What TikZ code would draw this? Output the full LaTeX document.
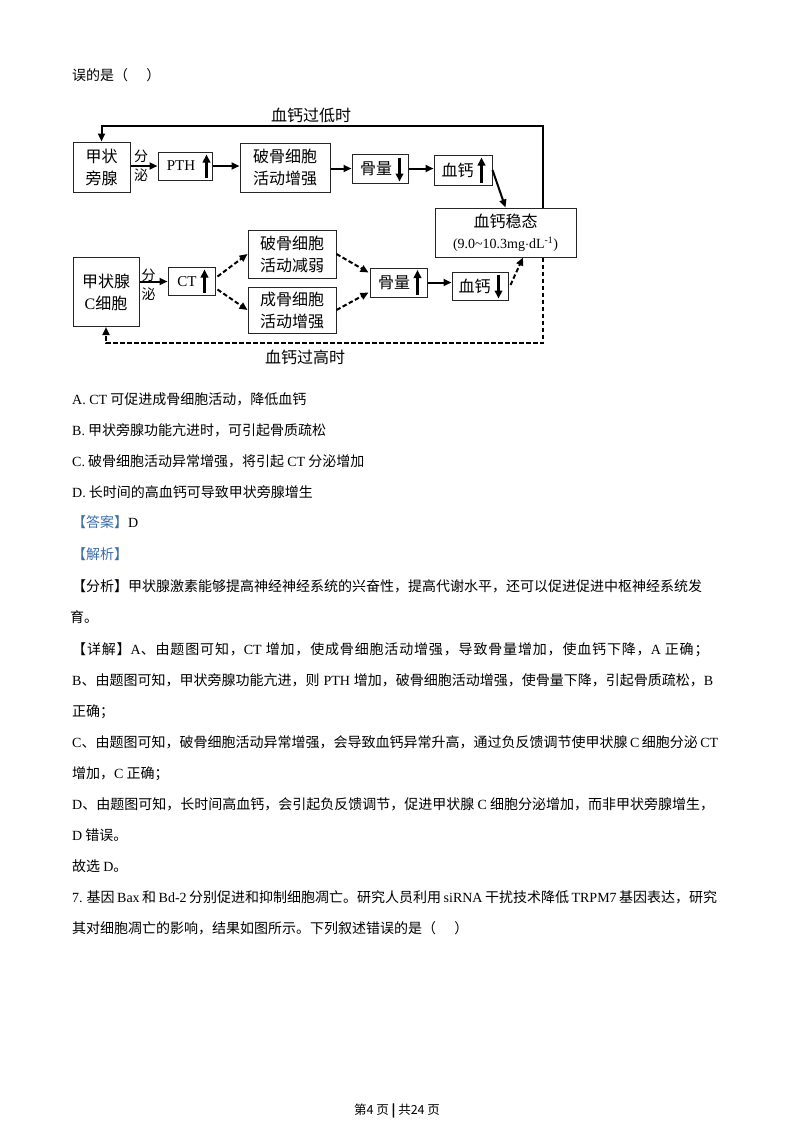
\documentclass[tikz,border=0pt]{standalone}
\usepackage{fontspec}
\setmainfont{Noto Sans CJK SC}
\newfontfamily\tms{Liberation Serif}
\newcommand{\lat}[1]{{\tms #1}}
\newcommand{\gapx}{\hspace{4pt}}
\XeTeXlinebreaklocale "zh"
\XeTeXlinebreakskip=0pt plus 3pt minus 0.3pt
\usetikzlibrary{arrows.meta,calc}
\definecolor{blu}{RGB}{60,110,170}
\begin{document}
\begin{tikzpicture}[x=1pt,y=-1pt,
  box/.style={draw=black!85, line width=1pt, inner sep=0pt, align=center, font=\fontsize{16}{22}\selectfont},
  conn/.style={line width=2pt, -{Triangle[length=8pt,width=7pt]}},
  dconn/.style={conn, dash pattern=on 4.5pt off 2.5pt},
  inarr/.style={line width=2.3pt, -{Triangle[length=8pt,width=7.5pt]}},
  lbl/.style={inner sep=0pt, font=\fontsize{16}{16}\selectfont},
  sec/.style={inner sep=0pt, align=center, font=\fontsize{14}{19}\selectfont},
  body/.style={anchor=base west, inner sep=0pt, font=\fontsize{14}{14}\selectfont}]
\useasboundingbox (0,0) rectangle (793,1122);
\fill[white] (0,0) rectangle (793,1122);

% ---------- text above ----------
\node[body] (t0) at (72,80) {误的是（\hspace{1.3em}）};

% ---------- diagram: upper row ----------
\node[box, minimum width=57pt, minimum height=50pt] (ptg) at (101.5,167) {甲状\\旁腺};
\node[box, minimum width=54pt, minimum height=28pt] (pth) at (185,166) {\lat{\fontsize{15}{15}\selectfont PTH}\hspace{8pt}};
\node[box, minimum width=90pt, minimum height=49pt] (pogq) at (285,167.5) {破骨细胞\\活动增强};
\node[box, minimum width=56pt, minimum height=29pt] (gld) at (380,168.5) {骨量\hspace{8pt}};
\node[box, minimum width=58pt, minimum height=30pt] (xgu) at (463,170) {血钙\hspace{11pt}};
\node[box, minimum width=141pt, minimum height=49pt] (wt) at (505.5,232.5) {血钙稳态\\[-1pt]\lat{\fontsize{14}{14}\selectfont (9.0\char`~10.3mg$\cdot$dL\textsuperscript{-1})}};

% ---------- diagram: lower row ----------
\node[box, minimum width=66pt, minimum height=69pt] (cc) at (106,292) {甲状腺\\\lat{C}细胞};
\node[box, minimum width=47pt, minimum height=28pt] (ct) at (191.5,281.5) {\lat{\fontsize{15}{15}\selectfont CT}\hspace{9pt}};
\node[box, minimum width=88pt, minimum height=48pt] (pojr) at (292,254) {破骨细胞\\活动减弱};
\node[box, minimum width=88pt, minimum height=46pt] (cgzq) at (292,310) {成骨细胞\\活动增强};
\node[box, minimum width=57pt, minimum height=29pt] (glu) at (398.5,282.5) {骨量\hspace{9pt}};
\node[box, minimum width=56pt, minimum height=28pt] (xgd) at (480,286) {血钙\hspace{11pt}};

% arrows inside boxes
\draw[inarr] ([shift={(-6,-2.5)}]pth.south east) -- ([shift={(-6,3)}]pth.north east);
\draw[inarr] ([shift={(-9,4)}]gld.north east) -- ([shift={(-9,-2)}]gld.south east);
\draw[inarr] ([shift={(-11,-2.5)}]xgu.south east) -- ([shift={(-11,3)}]xgu.north east);
\draw[inarr] ([shift={(-11,-3)}]ct.south east) -- ([shift={(-11,2.5)}]ct.north east);
\draw[inarr] ([shift={(-10,-2.5)}]glu.south east) -- ([shift={(-10,2.5)}]glu.north east);
\draw[inarr] ([shift={(-10,3)}]xgd.north east) -- ([shift={(-10,-2)}]xgd.south east);

% labels
\node[lbl] (lo) at (311,115) {血钙过低时};
\node[lbl] (hi) at (305,357) {血钙过高时};
\node[sec] (fm1) at (141,166) {分\\泌};
\node[sec] (fm2) at (148.5,284.5) {分\\泌};

% coordinates for feedback loops
\coordinate (tr) at (543,126);
\coordinate (br) at (543,343);

% solid connectors
\draw[conn] (ptg.east |- pth) -- (pth.west);
\draw[conn] (pth.east) -- (pth.east -| pogq.west);
\draw[conn] (pogq.east |- gld) -- (gld.west);
\draw[conn] (gld.east) -- (gld.east -| xgu.west);
\draw[conn] (xgu.east) -- (wt.north);
\draw[conn] (wt.north -| tr) -- (tr) -| (ptg.north);
\draw[conn] (cc.east |- ct) -- (ct.west);
\draw[conn] (glu.east) -- (glu.east -| xgd.west);

% dashed connectors
\draw[dconn] ([shift={(2,-5)}]ct.east) -- (pojr.west);
\draw[dconn] ([shift={(2,8)}]ct.east) -- (cgzq.west);
\draw[dconn] (pojr.east) -- ([shift={(-1,-10)}]glu.west);
\draw[dconn] (cgzq.east) -- ([shift={(-1,10)}]glu.west);
\draw[dconn] ([shift={(2,-1)}]xgd.east) -- ([shift={(17.5,0)}]wt.south);
\draw[dconn] (wt.south -| br) -- (br) -| (cc.south);

% ---------- options ----------
\node[body] (oa) at (72,404) {\lat{A. CT} 可促进成骨细胞活动，降低血钙};
\node[body] (ob) at (72,435) {\lat{B.} 甲状旁腺功能亢进时，可引起骨质疏松};
\node[body] (oc) at (72,466) {\lat{C.} 破骨细胞活动异常增强，将引起 \lat{CT} 分泌增加};
\node[body] (od) at (72,497) {\lat{D.} 长时间的高血钙可导致甲状旁腺增生};

% ---------- answer ----------
\node[body] (ans) at (72,527) {\textcolor{blu}{【答案】}\lat{D}};
\node[body] (jx) at (72,559) {\textcolor{blu}{【解析】}};
\node[body] (fx1) at (72,591) {\hbox to 632pt{【分析】甲状腺激素能够提高神经神经系统的兴奋性，提高代谢水平，还可以促进促进中枢神经系统发}};
\node[body] (fx2) at (70,622) {育。};
\node[body] (xj1) at (72,654) {\addfontfeature{LetterSpace=6}【详解】\lat{A}、由题图可知，\lat{CT}\gapx 增加，使成骨细胞活动增强，导致骨量增加，使血钙下降，\lat{A}\gapx 正确；};
\node[body] (xj2) at (72,685) {\hbox to 646pt{\lat{B}、由题图可知，甲状旁腺功能亢进，则\gapx\lat{PTH}\gapx 增加，破骨细胞活动增强，使骨量下降，引起骨质疏松，\lat{B}}};
\node[body] (xj3) at (72,716) {正确；};
\node[body] (xj4) at (72,747) {\hbox to 646pt{\lat{C}、由题图可知，破骨细胞活动异常增强，会导致血钙异常升高，通过负反馈调节使甲状腺 \lat{C} 细胞分泌 \lat{CT}}};
\node[body] (xj5) at (72,778) {增加，\lat{C} 正确；};
\node[body] (xj6) at (72,809) {\hbox to 642pt{\lat{D}、由题图可知，长时间高血钙，会引起负反馈调节，促进甲状腺 \lat{C} 细胞分泌增加，而非甲状旁腺增生，}};
\node[body] (xj7) at (72,840) {\lat{D} 错误。};
\node[body] (xj8) at (72,871) {故选 \lat{D}。};
\node[body] (q7a) at (72,902) {\hbox to 645pt{\lat{7.} 基因 \lat{Bax} 和 \lat{Bd-2} 分别促进和抑制细胞凋亡。研究人员利用 \lat{siRNA} 干扰技术降低 \lat{TRPM7} 基因表达，研究}};
\node[body] (q7b) at (72,933) {其对细胞凋亡的影响，结果如图所示。下列叙述错误的是（\hspace{1.3em}）};

% ---------- footer ----------
\node[inner sep=0pt, font=\fontsize{12.5}{12.5}\selectfont] (ft) at (397,1111) {第4 页 \textbf{|} 共24 页};
\end{tikzpicture}
\end{document}
